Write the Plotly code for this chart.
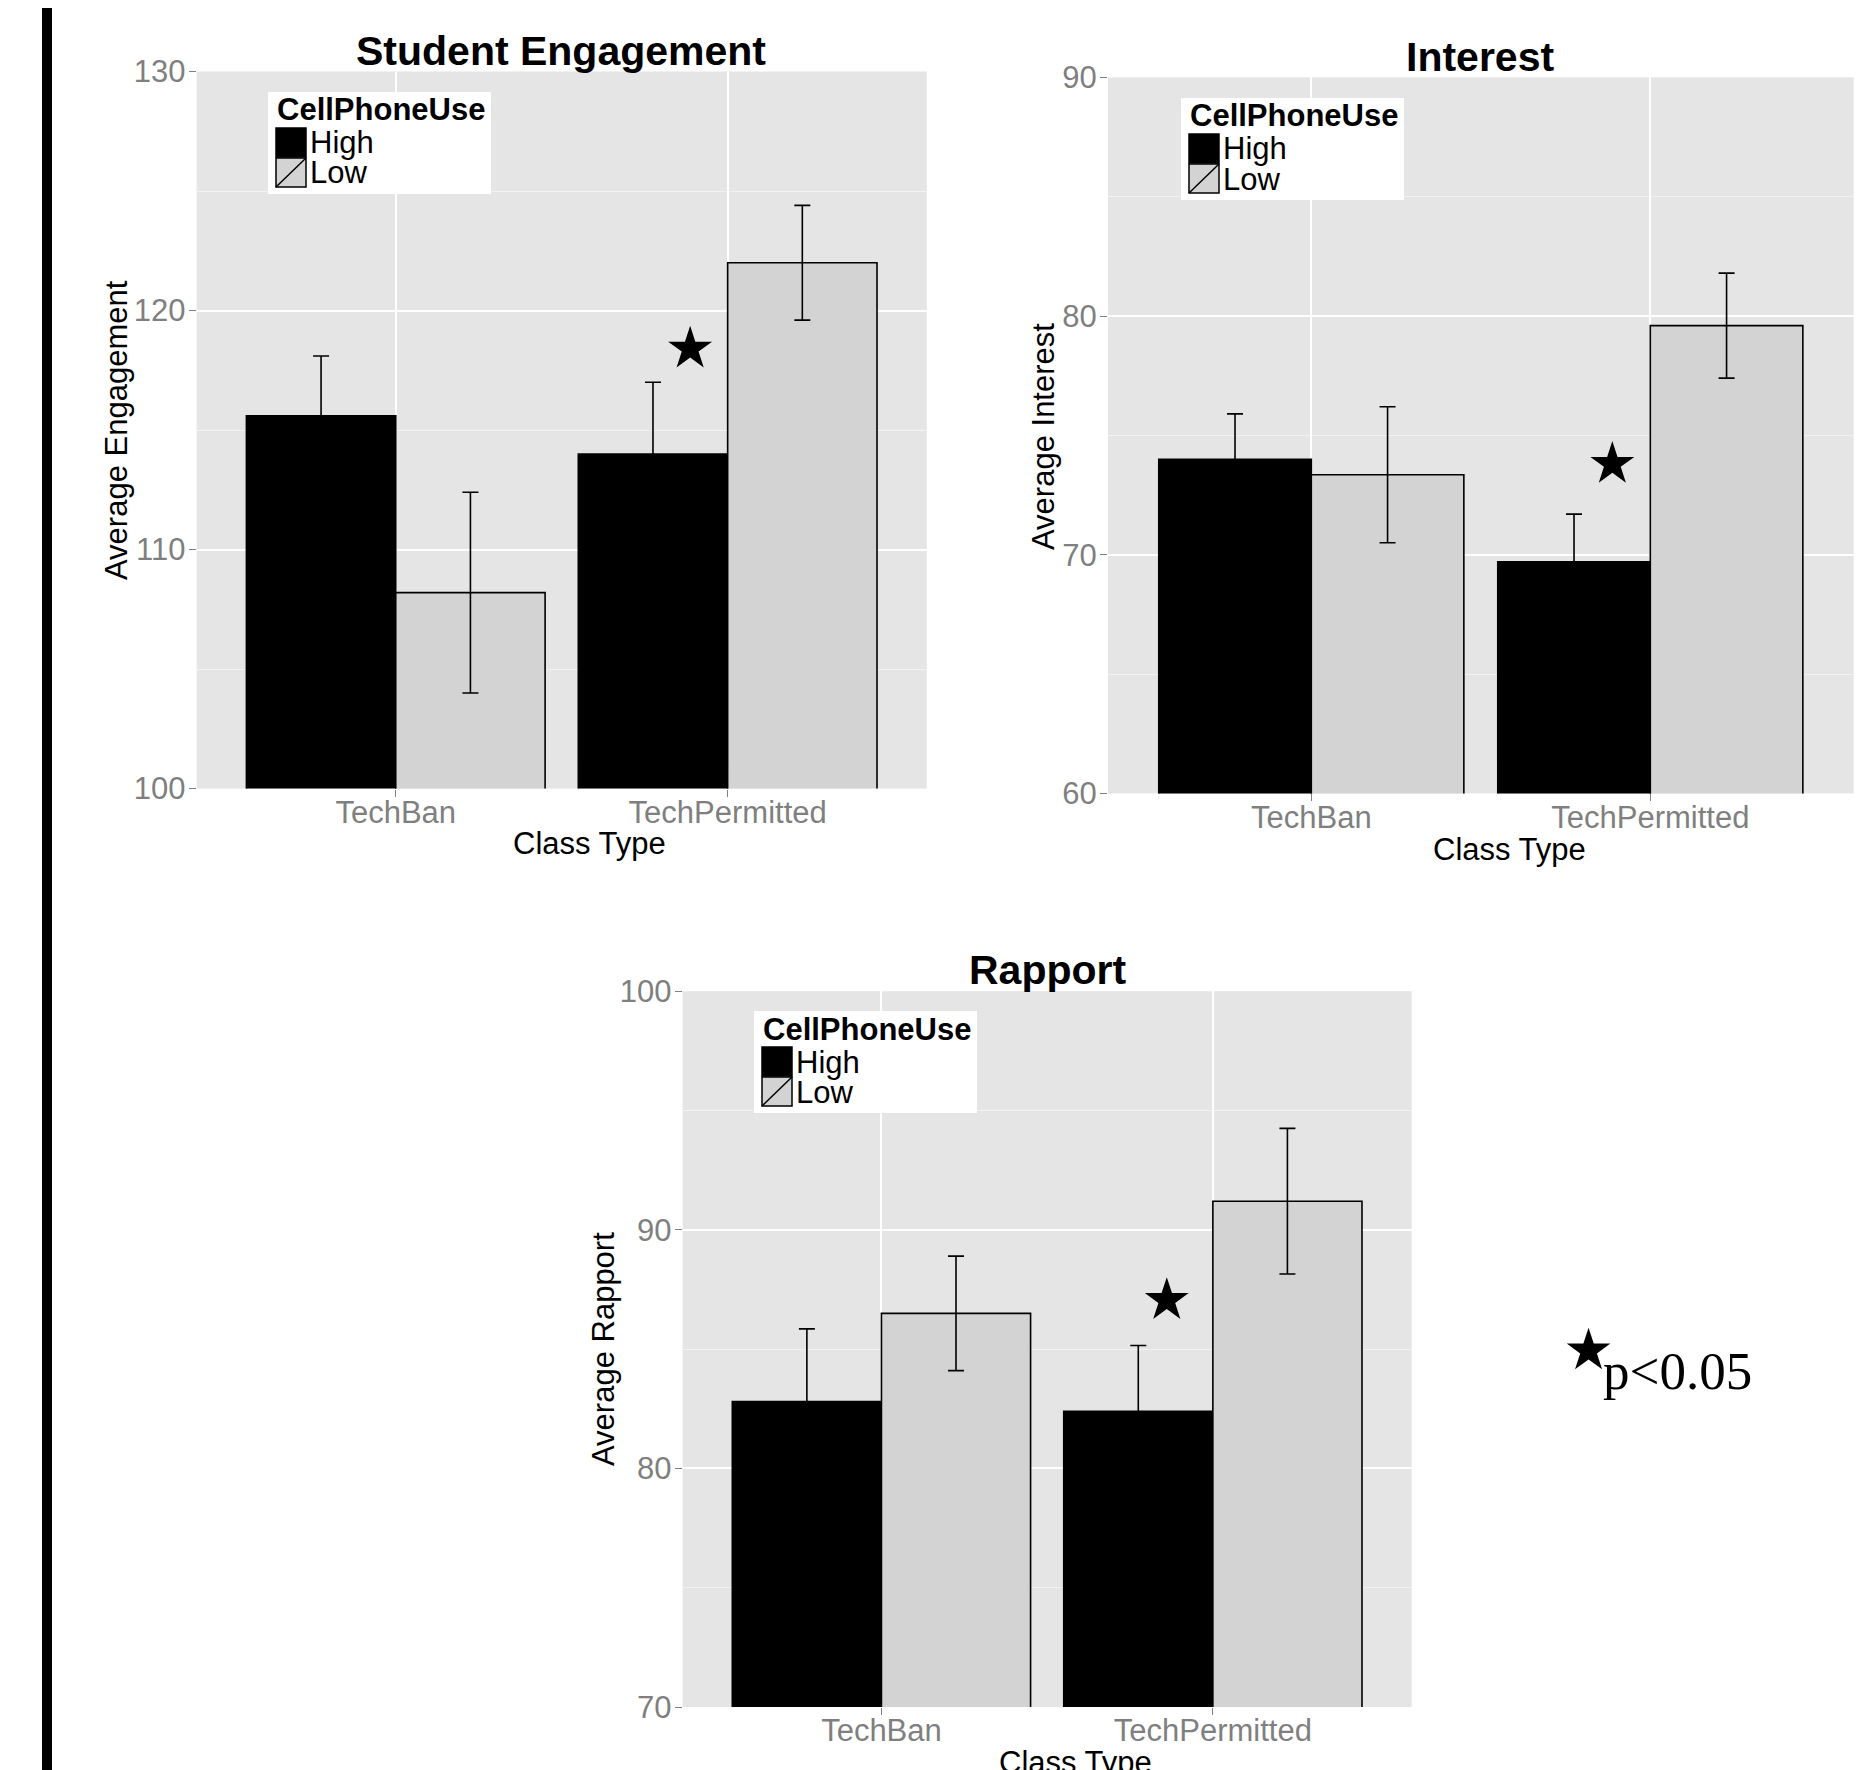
import plotly.graph_objects as go

# page offset (the browser body margin) and figure size
OFF = 8
W, H = 1868 - OFF, 1770 - OFF

# ---------------- data ----------------
class_types = ["TechBan", "TechPermitted"]
groups = ["High", "Low"]
legend_title = "CellPhoneUse"
panel_titles = ["Student Engagement", "Interest", "Rapport"]
y_titles = ["Average Engagement", "Average Interest", "Average Rapport"]
x_title = "Class Type"

engagement_high = [115.6, 114.0]
engagement_high_se = [2.5, 3.0]
engagement_low = [108.2, 122.0]
engagement_low_se = [4.2, 2.4]

interest_high = [74.0, 69.7]
interest_high_se = [1.9, 2.0]
interest_low = [73.35, 79.6]
interest_low_se = [2.85, 2.2]

rapport_high = [82.8, 82.4]
rapport_high_se = [3.05, 2.75]
rapport_low = [86.5, 91.2]
rapport_low_se = [2.4, 3.05]

# significance stars (x in category units: 1 = TechBan, 2 = TechPermitted)
star_x = [1.887, 1.888, 1.861]
star_y = [118.4, 73.8, 87.05]

y_ranges = [[100, 130], [60, 90], [70, 100]]
y_tickvals = [[100, 110, 120, 130], [60, 70, 80, 90], [70, 80, 90, 100]]
sig_label = "p&lt;0.05"

# ---------------- styling ----------------
FONT = "Liberation Sans, Arial, sans-serif"
HIGH_COLOR = "#000000"
LOW_COLOR = "#D3D3D3"
PANEL_BG = "#E5E5E5"
TICK_GREY = "#7F7F7F"

# plot areas in page pixels (left, right, top, bottom)
panels_px = [
    (196.6, 926.8, 71.5, 788.6),
    (1107.9, 1853.7, 77.4, 793.4),
    (682.6, 1411.7, 991.2, 1707.1),
]
title_px = [(561, 51), (1480, 57), (1048, 970)]
xtitle_px = [(589, 843), (1509, 849), (1075, 1762)]
ytitle_px = [(117, 430), (1044, 437), (603, 1349)]
legend_px = [(268, 92), (1181, 98), (754, 1011)]


def px(x):
    return (x - OFF) / W


def py(y):
    return 1 - (y - OFF) / H


series = [
    (engagement_high, engagement_high_se, engagement_low, engagement_low_se),
    (interest_high, interest_high_se, interest_low, interest_low_se),
    (rapport_high, rapport_high_se, rapport_low, rapport_low_se),
]

fig = go.Figure()
annotations = []
shapes = []

for i, (hi, hi_se, lo, lo_se) in enumerate(series):
    sfx = "" if i == 0 else str(i + 1)
    xa, ya = "x" + sfx, "y" + sfx
    for name, vals, se, col in [(groups[0], hi, hi_se, HIGH_COLOR),
                                (groups[1], lo, lo_se, LOW_COLOR)]:
        fig.add_trace(go.Bar(
            x=[1, 2], y=vals, name=name, xaxis=xa, yaxis=ya,
            marker=dict(color=col, line=dict(color="black", width=1.6)),
            error_y=dict(type="data", array=se, visible=True,
                         color="black", thickness=1.6, width=8),
            showlegend=False,
        ))
    fig.add_trace(go.Scatter(
        x=[star_x[i]], y=[star_y[i]], mode="markers", xaxis=xa, yaxis=ya,
        marker=dict(symbol="star", size=33, color="black",
                    line=dict(width=0)),
        showlegend=False, hoverinfo="skip",
    ))

    l, r, t, b = panels_px[i]
    fig.update_layout({
        "xaxis" + sfx: dict(
            domain=[px(l), px(r)], anchor=ya, range=[0.4, 2.6],
            tickvals=[1, 2], ticktext=class_types,
            tickfont=dict(family=FONT, size=31, color=TICK_GREY),
            ticks="outside", ticklen=7, tickwidth=1.2, tickcolor=TICK_GREY,
            ticklabelstandoff=-11,
            showgrid=True, gridcolor="white", gridwidth=2,
            zeroline=False, showline=False, fixedrange=True,
            automargin=False,
        ),
        "yaxis" + sfx: dict(
            domain=[py(b), py(t)], anchor=xa, range=y_ranges[i],
            tickvals=y_tickvals[i],
            tickfont=dict(family=FONT, size=31, color=TICK_GREY),
            ticks="outside", ticklen=7, tickwidth=1.2, tickcolor=TICK_GREY,
            ticklabelstandoff=-3,
            showgrid=True, gridcolor="white", gridwidth=2,
            minor=dict(dtick=5, tick0=0, showgrid=True,
                       gridcolor="#F2F2F2", gridwidth=1.2, ticks=""),
            zeroline=False, showline=False, fixedrange=True,
            automargin=False,
        ),
    })

    tx, ty = title_px[i]
    annotations.append(dict(
        text="<b>%s</b>" % panel_titles[i], x=px(tx), y=py(ty),
        xref="paper", yref="paper", xanchor="center", yanchor="middle",
        showarrow=False, font=dict(family=FONT, size=41, color="black")))
    tx, ty = xtitle_px[i]
    annotations.append(dict(
        text=x_title, x=px(tx), y=py(ty),
        xref="paper", yref="paper", xanchor="center", yanchor="middle",
        showarrow=False, font=dict(family=FONT, size=31, color="black")))
    tx, ty = ytitle_px[i]
    annotations.append(dict(
        text=y_titles[i], x=px(tx), y=py(ty), textangle=-90,
        xref="paper", yref="paper", xanchor="center", yanchor="middle",
        showarrow=False, font=dict(family=FONT, size=31, color="black")))

    # legend box
    x0, y0 = legend_px[i]
    shapes.append(dict(type="rect", xref="paper", yref="paper",
                       x0=px(x0), x1=px(x0 + 223), y0=py(y0 + 102), y1=py(y0),
                       fillcolor="white", line=dict(width=0), layer="above"))
    annotations.append(dict(
        text="<b>%s</b>" % legend_title, x=px(x0 + 7), y=py(y0 + 18),
        xref="paper", yref="paper", xanchor="left", yanchor="middle",
        showarrow=False, font=dict(family=FONT, size=31, color="black")))
    for k, (name, col) in enumerate([(groups[0], HIGH_COLOR), (groups[1], LOW_COLOR)]):
        kt = y0 + 36 + 30 * k
        shapes.append(dict(type="rect", xref="paper", yref="paper",
                           x0=px(x0 + 8), x1=px(x0 + 38), y0=py(kt + 29), y1=py(kt),
                           fillcolor=col, line=dict(color="black", width=1.5),
                           layer="above"))
        if k == 1:
            shapes.append(dict(type="line", xref="paper", yref="paper",
                               x0=px(x0 + 8), x1=px(x0 + 38), y0=py(kt + 29), y1=py(kt),
                               line=dict(color="black", width=1.5), layer="above"))
        annotations.append(dict(
            text=name, x=px(x0 + 40), y=py(kt + 15),
            xref="paper", yref="paper", xanchor="left", yanchor="middle",
            showarrow=False, font=dict(family=FONT, size=31, color="black")))

# thick black bar on the left
shapes.append(dict(type="rect", xref="paper", yref="paper",
                   x0=px(42), x1=px(52), y0=-0.01, y1=1.01,
                   fillcolor="black", line=dict(width=0)))

# significance key
annotations.append(dict(
    text="★", x=px(1588), y=py(1349), xref="paper", yref="paper",
    xanchor="center", yanchor="middle", showarrow=False,
    font=dict(family="DejaVu Sans", size=57, color="black")))
annotations.append(dict(
    text=sig_label, x=px(1601), y=py(1371), xref="paper", yref="paper",
    xanchor="left", yanchor="middle", showarrow=False,
    font=dict(family="Liberation Serif, serif", size=53, color="black")))

fig.update_layout(
    width=W, height=H, margin=dict(l=0, r=0, t=0, b=0, autoexpand=False),
    paper_bgcolor="white", plot_bgcolor=PANEL_BG,
    barmode="group", bargap=0.1, bargroupgap=0,
    showlegend=False,
    annotations=annotations, shapes=shapes,
    font=dict(family=FONT),
)

fig.write_html("out.html")
